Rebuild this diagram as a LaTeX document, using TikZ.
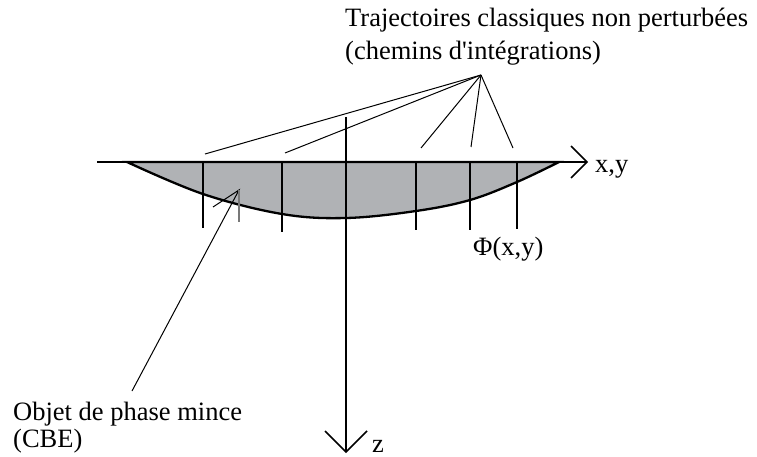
\documentclass[tikz,border=0pt]{standalone}
\usepackage{fontspec}
\newfontfamily\lib{Liberation Serif}
\definecolor{lensgray}{RGB}{176,178,181}
\definecolor{ptrgray}{RGB}{120,120,120}
\begin{document}
\begin{tikzpicture}[x=1pt,y=-1pt,
  axisline/.style={line width=1.6pt},
  trajline/.style={line width=2.3pt},
  fanline/.style={line width=1.0pt},
  lbl/.style={inner sep=0pt, anchor=base west, font=\lib\fontsize{26.5}{31}\selectfont}]
\useasboundingbox (0,0) rectangle (757,457);
% lens (thin phase object)
\draw[trajline, fill=lensgray] plot[smooth, tension=0.6] coordinates
  {(127,162) (203,194) (282,214) (346,218) (416,211) (470,200) (517,182) (559,162)} -- cycle;
% labels
\node[lbl] (traj1) at (345,27) {Trajectoires classiques non perturbées};
\node[lbl] (traj2) at (345,60) {(chemins d'intégrations)};
\node[lbl] (xy) at (595,173) {x,y};
\node[lbl] (phi) at (473,255) {Φ(x,y)};
\node[lbl] (zl) at (372,452) {z};
\node[lbl] (obj1) at (13,420) {Objet de phase mince};
\node[lbl] (obj2) at (13,447) {(CBE)};
% axes
\coordinate (xs) at (97,162);
\coordinate (xt) at (587,162);
\coordinate (zs) at (346,117);
\coordinate (zt) at (346,452);
\draw[axisline] (xs) -- (xt);
\draw[axisline] (571,146) -- (xt) -- (571,178);
\draw[axisline] (zs) -- (zt);
\draw[axisline] (325,431) -- (zt) -- (367,431);
% trajectories
\draw[trajline] (203,162) -- (203,228);
\draw[trajline] (282,162) -- (282,232);
\draw[trajline] (416,162) -- (416,230);
\draw[trajline] (470,162) -- (470,230);
\draw[trajline] (517,162) -- (517,229);
% fan of leader lines
\coordinate (apex) at (481,75);
\coordinate (f1) at (205,154);
\coordinate (f2) at (285,153);
\coordinate (f3) at (421,148);
\coordinate (f4) at (471,147);
\coordinate (f5) at (513,148);
\foreach \f in {f1,f2,f3,f4,f5} \draw[fanline] (apex) -- (\f);
% pointer to the object
\coordinate (ptip) at (239,190);
\coordinate (pend) at (132,391);
\draw[fanline] (pend) -- (ptip) -- (213,207);
\draw[line width=1.3pt, ptrgray] (ptip) -- (239,222);
\end{tikzpicture}
\end{document}
